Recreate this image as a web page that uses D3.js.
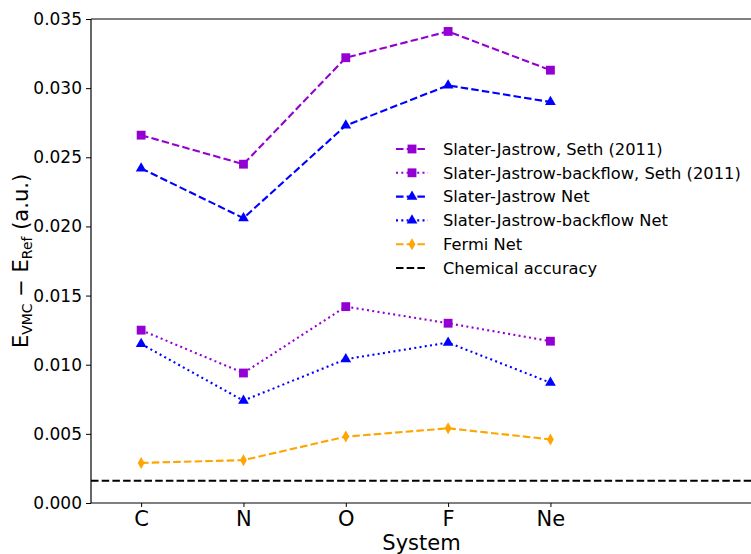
<!DOCTYPE html>
<html>
<head>
<meta charset="utf-8">
<script src="https://cdn.jsdelivr.net/npm/d3@7"></script>
<style>
  body { margin: 0; background: #fff; }
  svg { display: block; font-family: "DejaVu Sans", sans-serif; }
</style>
</head>
<body>
<div id="chart"></div>
<script>
const systems = ['C', 'N', 'O', 'F', 'Ne'];
const sjSeth = [0.0266, 0.0245, 0.0322, 0.0341, 0.0313];
const sjbSeth = [0.0125, 0.0094, 0.0142, 0.0130, 0.0117];
const sjNet = [0.0242, 0.0206, 0.0273, 0.0302, 0.0290];
const sjbNet = [0.0115, 0.0074, 0.0104, 0.0116, 0.0087];
const fermiNet = [0.0029, 0.0031, 0.0048, 0.0054, 0.0046];
const chemAccuracy = 0.0016;
const yTicks = [0, 0.005, 0.010, 0.015, 0.020, 0.025, 0.030, 0.035];

const W = 751, H = 554;
const margin = { top: 19, right: -1, bottom: 51, left: 91 };

const series = [
  { name: 'Slater-Jastrow, Seth (2011)', values: sjSeth, color: '#9400d3', dash: '7.5,3.2', marker: 'square' },
  { name: 'Slater-Jastrow-backflow, Seth (2011)', values: sjbSeth, color: '#9400d3', dash: '2,3.3', marker: 'square' },
  { name: 'Slater-Jastrow Net', values: sjNet, color: '#0000ff', dash: '7.5,3.2', marker: 'triangle' },
  { name: 'Slater-Jastrow-backflow Net', values: sjbNet, color: '#0000ff', dash: '2,3.3', marker: 'triangle' },
  { name: 'Fermi Net', values: fermiNet, color: '#ffa500', dash: '7.5,3.2', marker: 'diamond' }
];

const svg = d3.select('#chart').append('svg')
  .attr('width', W)
  .attr('height', H);

const x = d3.scaleLinear()
  .domain([-0.49, 5.97])
  .range([margin.left, W - margin.right]);

const y = d3.scaleLinear()
  .domain([0, 0.035])
  .range([H - margin.bottom, margin.top]);

// axes
svg.append('g')
  .attr('transform', 'translate(' + margin.left + ',0)')
  .call(d3.axisLeft(y).tickValues(yTicks).tickFormat(d3.format('.3f')).tickSize(5).tickPadding(4))
  .call(g => g.select('.domain').remove())
  .call(g => g.selectAll('text').attr('font-size', 17).attr('fill', '#000').attr('font-family', 'DejaVu Sans'));

svg.append('g')
  .attr('transform', 'translate(0,' + (H - margin.bottom) + ')')
  .call(d3.axisBottom(x).tickValues(d3.range(systems.length)).tickFormat(i => systems[i]).tickSize(4).tickPadding(4))
  .call(g => g.select('.domain').remove())
  .call(g => g.selectAll('text').attr('font-size', 21).attr('fill', '#000').attr('font-family', 'DejaVu Sans'));

// spines
const frame = svg.append('g').attr('stroke', '#000').attr('stroke-width', 1.2);
frame.append('line').attr('x1', x.range()[0]).attr('x2', x.range()[1]).attr('y1', y(0.035)).attr('y2', y(0.035));
frame.append('line').attr('x1', x.range()[0]).attr('x2', x.range()[1]).attr('y1', y(0)).attr('y2', y(0));
frame.append('line').attr('x1', x.range()[0]).attr('x2', x.range()[0]).attr('y1', y(0)).attr('y2', y(0.035));

// chemical accuracy
svg.append('line')
  .attr('x1', x.range()[0]).attr('x2', x.range()[1])
  .attr('y1', y(chemAccuracy)).attr('y2', y(chemAccuracy))
  .attr('stroke', '#000').attr('stroke-width', 2).attr('stroke-dasharray', '7.5,3.2');

const markerPath = {
  square: d3.symbol(d3.symbolSquare, 78)(),
  triangle: d3.symbol(d3.symbolTriangle, 50)(),
  diamond: 'M0,-6L3.4,0L0,6L-3.4,0Z'
};

const line = d3.line()
  .x((d, i) => x(i))
  .y(d => y(d));

series.forEach(s => {
  svg.append('path')
    .datum(s.values)
    .attr('fill', 'none')
    .attr('stroke', s.color)
    .attr('stroke-width', 2.1)
    .attr('stroke-dasharray', s.dash)
    .attr('d', line);

  svg.append('g').selectAll('path')
    .data(s.values)
    .join('path')
    .attr('transform', (d, i) => 'translate(' + x(i) + ',' + y(d) + ')')
    .attr('d', markerPath[s.marker])
    .attr('fill', s.color);
});

// legend
const legendItems = series.concat([{ name: 'Chemical accuracy', color: '#000', dash: '7.5,3.2', marker: null }]);
const legend = svg.append('g').attr('transform', 'translate(396,149)');
legendItems.forEach((s, i) => {
  const row = legend.append('g').attr('transform', 'translate(0,' + (i * 23.8) + ')');
  row.append('line')
    .attr('x1', 0).attr('x2', 32)
    .attr('stroke', s.color).attr('stroke-width', 2.1)
    .attr('stroke-dasharray', s.dash);
  if (s.marker) {
    row.append('path')
      .attr('transform', 'translate(16,0)')
      .attr('d', markerPath[s.marker])
      .attr('fill', s.color);
  }
  row.append('text')
    .attr('x', 47)
    .attr('dy', '0.35em')
    .attr('font-size', 16.3)
    .text(s.name);
});

// axis labels
svg.append('text')
  .attr('x', (x.range()[0] + x.range()[1]) / 2)
  .attr('y', 550)
  .attr('text-anchor', 'middle')
  .attr('font-size', 21)
  .text('System');

const yLabel = svg.append('text')
  .attr('transform', 'translate(28,' + ((y(0) + y(0.035)) / 2) + ') rotate(-90)')
  .attr('text-anchor', 'middle')
  .attr('font-size', 21);
yLabel.append('tspan').text('E');
yLabel.append('tspan').attr('font-size', 14).attr('dy', 4).text('VMC');
yLabel.append('tspan').attr('dy', -4).text(' \u2212 E');
yLabel.append('tspan').attr('font-size', 14).attr('dy', 4).text('Ref');
yLabel.append('tspan').attr('dy', -4).text(' (a.u.)');
</script>
</body>
</html>
